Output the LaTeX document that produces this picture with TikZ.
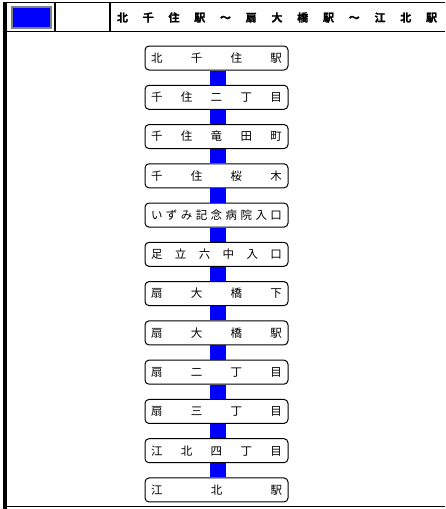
\documentclass[tikz,border=0pt]{standalone}
\usepackage{fontspec}
\newfontfamily\cjk{Noto Sans CJK JP}
\newfontfamily\cjkheavy[FakeBold=1.2]{Noto Sans CJK JP Bold}
\begin{document}
\begin{tikzpicture}[x=1pt,y=-1pt,
  stbox/.style={draw=black,line width=1pt,rounded corners=4pt,minimum width=143pt,minimum height=24pt,inner sep=0pt,fill=white,font=\cjk\fontsize{11.5}{12}\selectfont},
  conn/.style={draw=blue,line width=16pt},
  hline/.style={line width=1.3pt,black}]
\useasboundingbox (0,0) rectangle (445,509);
% header
\fill[black] (2.5,2) rectangle (7,509);
\draw[hline] (2.5,2.5) -- (445,2.5);
\draw[hline] (2.5,31.5) -- (445,31.5);
\draw[hline] (55,2.5) -- (55,31.5);
\draw[hline] (110,2.5) -- (110,31.5);
\draw[hline] (7,506.5) -- (445,506.5);
\node[draw=gray,line width=1.2pt,fill=blue,minimum width=39pt,minimum height=21pt,inner sep=0pt] (blue) at (31.5,17.5) {};
\node[inner sep=0pt,font=\cjkheavy\fontsize{11}{12}\selectfont] (title) at (277,17.5) {\makebox[320pt][s]{北\hfill 千\hfill 住\hfill 駅\hfill ～\hfill 扇\hfill 大\hfill 橋\hfill 駅\hfill ～\hfill 江\hfill 北\hfill 駅}};
% stations
\foreach \i/\t in {1/{北\hfill 千\hfill 住\hfill 駅},
  2/{千\hfill 住\hfill 二\hfill 丁\hfill 目},
  3/{千\hfill 住\hfill 竜\hfill 田\hfill 町},
  4/{千\hfill 住\hfill 桜\hfill 木},
  5/{い\hfill ず\hfill み\hfill 記\hfill 念\hfill 病\hfill 院\hfill 入\hfill 口},
  6/{足\hfill 立\hfill 六\hfill 中\hfill 入\hfill 口},
  7/{扇\hfill 大\hfill 橋\hfill 下},
  8/{扇\hfill 大\hfill 橋\hfill 駅},
  9/{扇\hfill 二\hfill 丁\hfill 目},
  10/{扇\hfill 三\hfill 丁\hfill 目},
  11/{江\hfill 北\hfill 四\hfill 丁\hfill 目},
  12/{江\hfill 北\hfill 駅}}
  \node[stbox] (s\i) at (216.5,{58+39.27*(\i-1)}) {\makebox[131pt][s]{\t}};
\foreach \a/\b in {1/2,2/3,3/4,4/5,5/6,6/7,7/8,8/9,9/10,10/11,11/12}
  \draw[conn] ([xshift=1pt]s\a.south) -- ([xshift=1pt]s\b.north);
\end{tikzpicture}
\end{document}
